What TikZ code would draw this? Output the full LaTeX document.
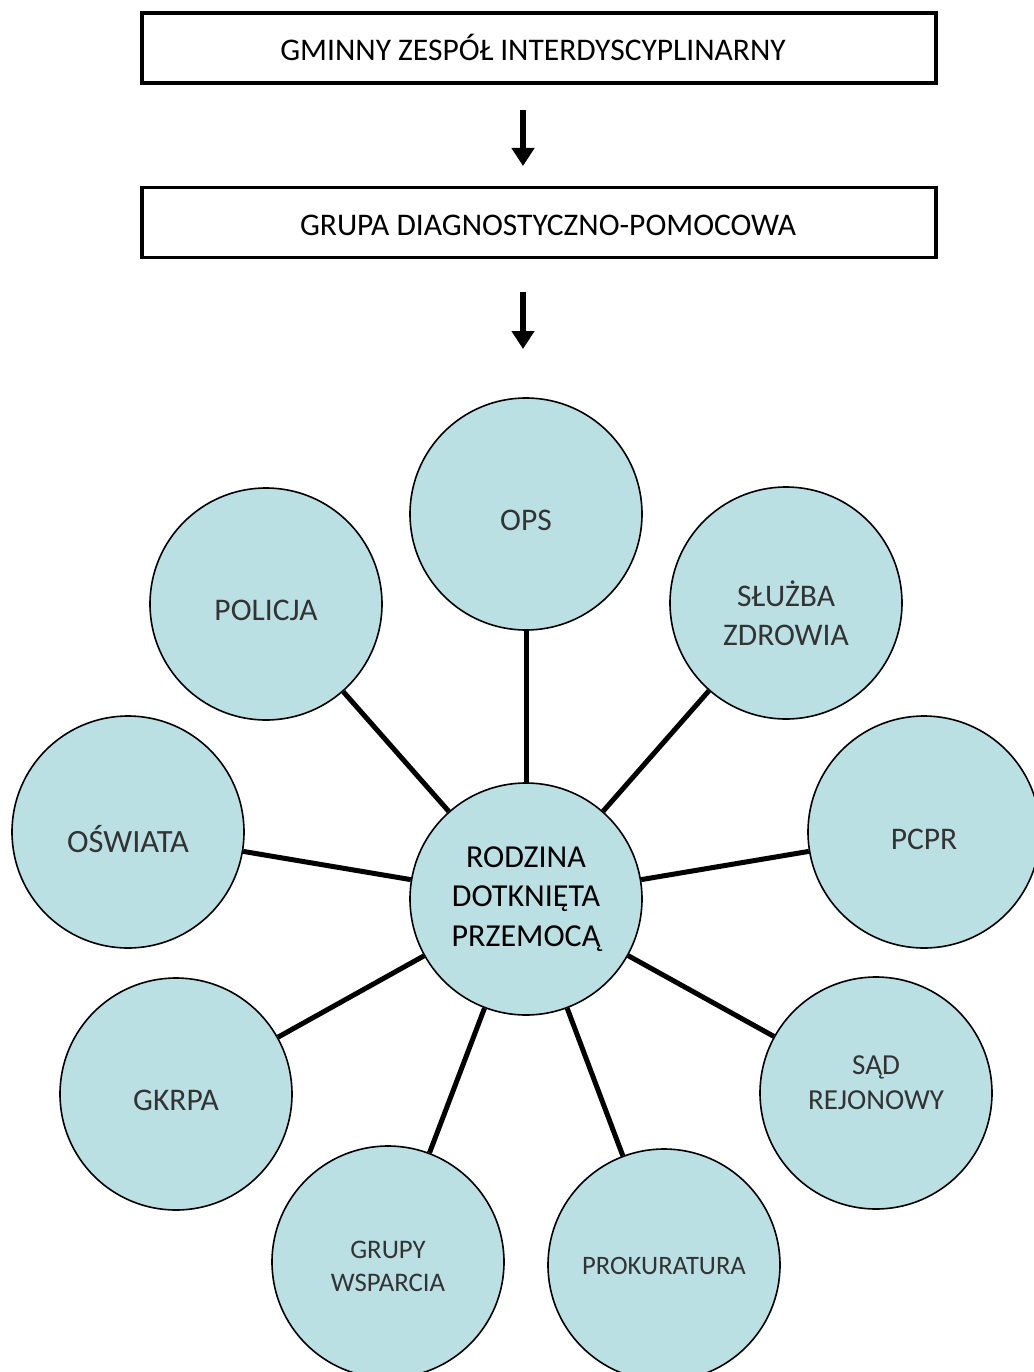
\documentclass[tikz,border=0pt]{standalone}
\usepackage{fontspec}
\setmainfont{Carlito}
\usetikzlibrary{arrows.meta}
\definecolor{cfill}{HTML}{BAE0E4}
\definecolor{ctext}{HTML}{333333}
\tikzset{
  topbox/.style={draw=black, line width=3.5pt, minimum width=794pt, minimum height=70pt, inner sep=0pt},
  boxtext/.style={inner sep=0pt, text=black, font=\fontsize{31.5}{36}\selectfont},
  circ/.style={circle, draw=black, line width=1.6pt, fill=cfill, minimum size=232pt, inner sep=0pt},
  spoke/.style={line width=5pt},
  downarrow/.style={line width=6pt, -{Triangle[width=22pt,length=18pt]}}
}
\begin{document}
\begin{tikzpicture}[x=1pt,y=-1pt]
\useasboundingbox (0,0) rectangle (1033,1372);
\node[topbox] (gzi) at (539,48) {};
\node[topbox] (gdp) at (539,222.5) {};
\node[boxtext] (gzit) at (533,47) {GMINNY ZESPÓŁ INTERDYSCYPLINARNY};
\node[boxtext] (gdpt) at (548,225) {GRUPA DIAGNOSTYCZNO-POMOCOWA};
\coordinate (a1s) at (523,110);
\coordinate (a1e) at (523,166);
\coordinate (a2s) at (523,292);
\coordinate (a2e) at (523,349);
\draw[downarrow] (a1s) -- (a1e);
\draw[downarrow] (a2s) -- (a2e);

\node[circ] (c) at (526,899) {};
\node[circ] (ops) at (526,514) {};
\node[circ] (sz) at (786,603) {};
\node[circ] (pcpr) at (924,832) {};
\node[circ] (sad) at (876,1093) {};
\node[circ] (prok) at (664,1265) {};
\node[circ] (gw) at (388,1262) {};
\node[circ] (gk) at (176,1094) {};
\node[circ] (osw) at (128,832) {};
\node[circ] (pol) at (266,604) {};

\foreach \n in {ops,sz,pcpr,sad,prok,gw,gk,osw,pol}
  \draw[spoke] (c) -- (\n);

\node[text=black, align=center, font=\fontsize{32}{39.5}\selectfont] (ct) at (526,899) {RODZINA\\DOTKNIĘTA\\PRZEMOCĄ};
\node[text=ctext, font=\fontsize{31.5}{39}\selectfont] (opst) at (526,520) {OPS};
\node[text=ctext, align=center, font=\fontsize{31.5}{39}\selectfont] (szt) at (786,613) {SŁUŻBA\\ZDROWIA};
\node[text=ctext, font=\fontsize{31.5}{39}\selectfont] (pcprt) at (924,839) {PCPR};
\node[text=ctext, align=center, font=\fontsize{29}{35}\selectfont] (sadt) at (876,1083) {SĄD\\REJONOWY};
\node[text=ctext, font=\fontsize{26.6}{30}\selectfont] (prokt) at (664,1266) {PROKURATURA};
\node[text=ctext, align=center, font=\fontsize{26.8}{33}\selectfont] (gwt) at (388,1266) {GRUPY\\WSPARCIA};
\node[text=ctext, font=\fontsize{31.5}{39}\selectfont] (gkt) at (176,1100) {GKRPA};
\node[text=ctext, font=\fontsize{32.5}{39}\selectfont] (oswt) at (128,839) {OŚWIATA};
\node[text=ctext, font=\fontsize{31.5}{39}\selectfont] (polt) at (266,610) {POLICJA};
\end{tikzpicture}
\end{document}
